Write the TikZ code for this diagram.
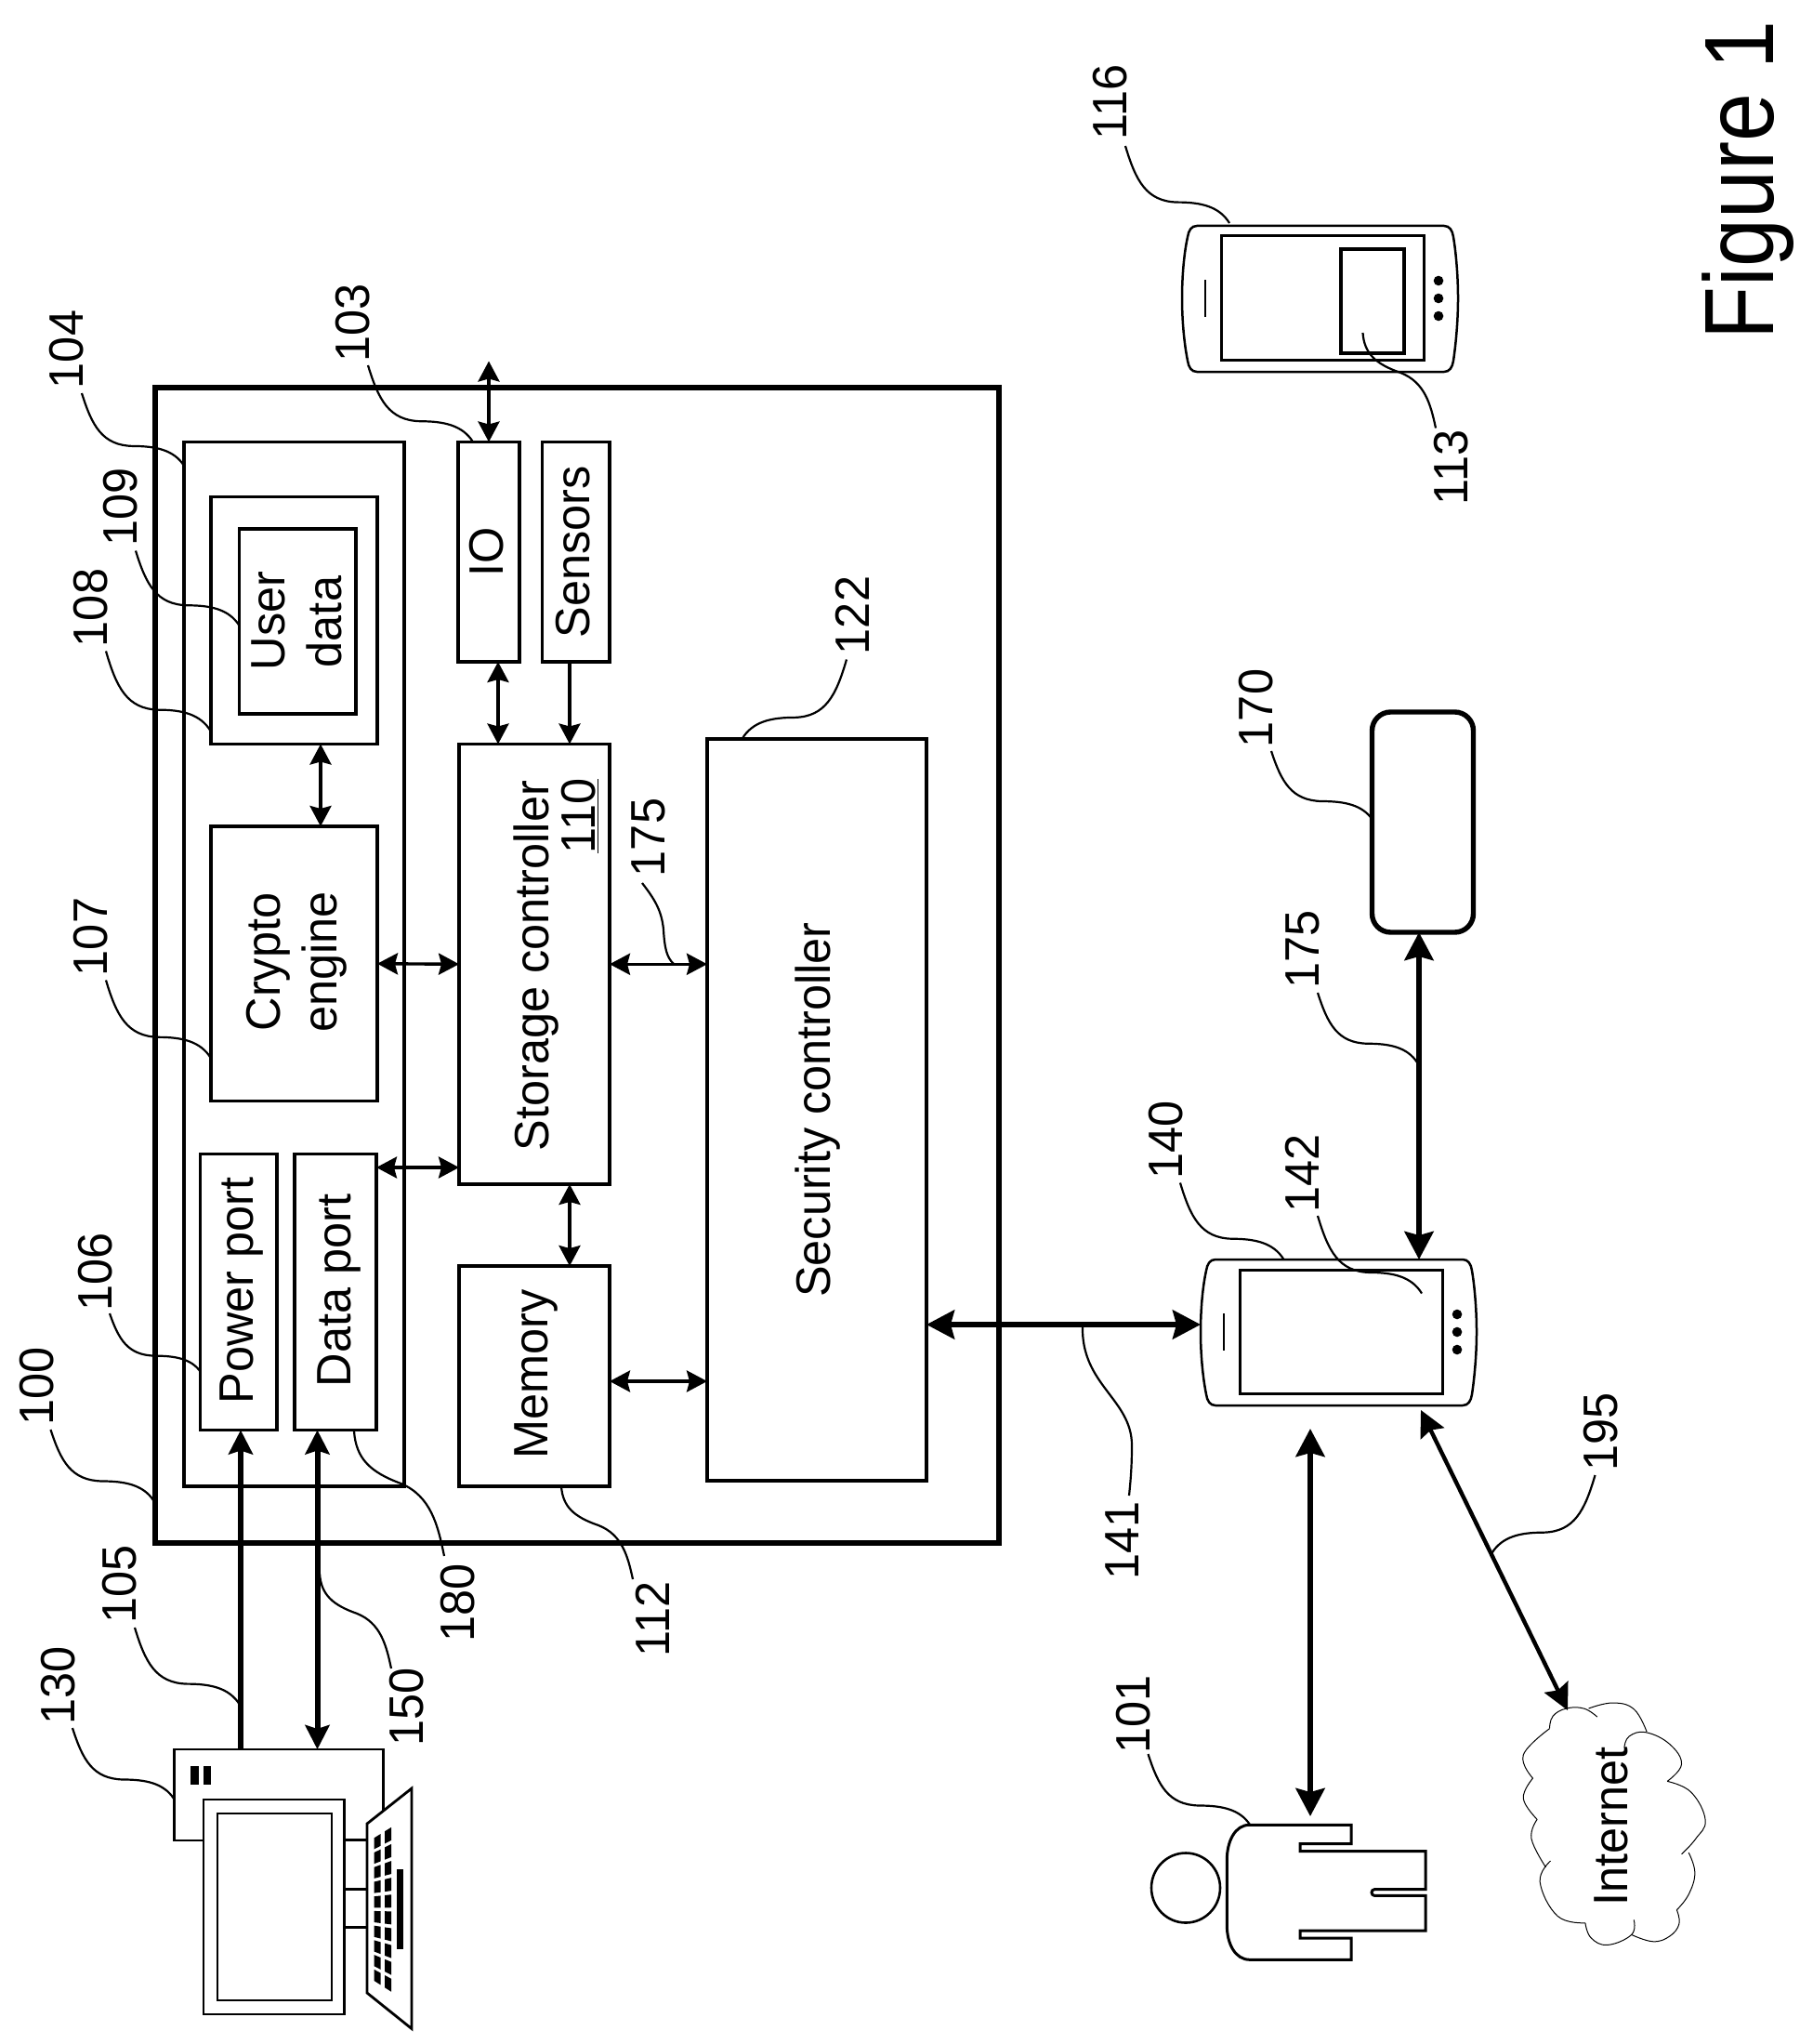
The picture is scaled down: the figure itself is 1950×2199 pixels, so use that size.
\documentclass[tikz,border=0pt]{standalone}
\usepackage{fontspec}
\setmainfont{Liberation Sans}
\usetikzlibrary{arrows.meta,calc}
\tikzset{
  boxn/.style={draw=black,line width=1.9pt,inner sep=0pt,outer sep=0pt,fill=none},
  hit/.style={inner sep=0pt,outer sep=0pt},
  lab/.style={rotate=90,xscale=0.97,anchor=base,inner sep=0pt,outer sep=0pt,font=\fontsize{26}{30}\selectfont},
  figlab/.style={rotate=90,xscale=0.88,anchor=base,inner sep=0pt,outer sep=0pt,font=\fontsize{53}{58}\selectfont},
  thin arrow/.style={line width=1.7pt},
  tipS/.style={{Stealth[length=11pt,width=11.5pt,inset=1.5pt]}-{Stealth[length=11pt,width=11.5pt,inset=1.5pt]}},
  tipSr/.style={-{Stealth[length=11pt,width=11.5pt,inset=1.5pt]}},
  thick arrow/.style={line width=3pt},
  tipL/.style={{Stealth[length=15pt,width=15.5pt,inset=2pt]}-{Stealth[length=15pt,width=15.5pt,inset=2pt]}},
  leaderline/.style={line width=1.1pt},
  phone line/.style={line width=1.25pt},
  pc line/.style={line width=1.4pt},
  phone/.pic={
    \draw[phone line] (16,0) -- (282,0) .. controls (288,0) and (291,5) .. (292,12)
      .. controls (295,30) and (297,55) .. (297,78) .. controls (297,100) and (295,125) .. (292,145)
      .. controls (291,152) and (288,157) .. (282,157) -- (16,157)
      .. controls (10,157) and (7,152) .. (6,145) .. controls (2,125) and (0,100) .. (0,78)
      .. controls (0,55) and (2,30) .. (6,12) .. controls (7,5) and (10,0) .. (16,0) -- cycle;
    \draw[line width=1.5pt] (42,11) rectangle (260,144);
    \draw[line width=1.2pt] (25,58) -- (25,98);
    \fill (276,59) circle [radius=5.3];
    \fill (276,78) circle [radius=5.3];
    \fill (276,97) circle [radius=5.3];
  }
}
\newcommand{\bx}[6][]{%
  \pgfmathsetmacro{\bw}{(#5-#3)*0.5}\pgfmathsetmacro{\bh}{(#6-#4)*0.5}%
  \pgfmathsetmacro{\cxx}{(#3+#5)/2}\pgfmathsetmacro{\cyy}{(#4+#6)/2}%
  \node[boxn,minimum width=\bw pt,minimum height=\bh pt,#1] (#2) at (\cxx,\cyy) {};}
\newcommand{\lab}[4]{\node[lab] (#1) at (#2,#3) {#4};}
\newcommand{\leaderA}[5]{%
  \coordinate (#1-a) at (#2,#3); \coordinate (#1-b) at (#4,#5);
  \pgfmathsetmacro{\dxx}{#4-#2}\pgfmathsetmacro{\dyy}{#5-#3}%
  \draw[leaderline] (#1-a) .. controls ({#2+.1*\dxx},{#3+.45*\dyy}) and ({#2+.2*\dxx},{#3+.72*\dyy})
    .. ({#2+.5*\dxx},{#3+.73*\dyy}) .. controls ({#2+.72*\dxx},{#3+.73*\dyy}) and ({#2+.9*\dxx},{#3+.78*\dyy}) .. (#1-b);}
\newcommand{\leaderB}[5]{%
  \coordinate (#1-a) at (#2,#3); \coordinate (#1-b) at (#4,#5);
  \pgfmathsetmacro{\dxx}{#4-#2}\pgfmathsetmacro{\dyy}{#5-#3}%
  \draw[leaderline] (#1-a) .. controls ({#2+.02*\dxx},{#3+.22*\dyy}) and ({#2+.18*\dxx},{#3+.33*\dyy})
    .. ({#2+.52*\dxx},{#3+.42*\dyy}) .. controls ({#2+.85*\dxx},{#3+.52*\dyy}) and ({#2+.93*\dxx},{#3+.75*\dyy}) .. (#1-b);}
\begin{document}
\begin{tikzpicture}[x=0.5pt,y=-0.5pt]
\useasboundingbox[fill=white] (0,0) rectangle (1950,2199);
% main boxes
\bx[line width=2.8pt]{dev}{167}{417}{1075}{1660}
\bx{b104}{198}{475.5}{435}{1599}
\bx{b108}{227}{534.5}{406}{800.5}
\bx{b109}{257.5}{569}{383}{768}
\bx{b107}{227}{889}{406}{1184.5}
\bx{b106}{215.5}{1241.5}{298}{1538.5}
\bx{b180}{317}{1241.5}{405}{1538.5}
\bx{b103}{493}{475.5}{559}{712}
\bx{sens}{583.5}{475.5}{656}{712}
\bx{b110}{494}{800.5}{656}{1274}
\bx{b112}{494}{1362}{656}{1599}
\bx{b122}{761}{795}{997}{1593}
% box texts
\lab{tUser}{306}{668}{User}
\lab{tData}{367}{669}{data}
\lab{tCrypto}{301}{1035}{Crypto}
\lab{tEngine}{362}{1035}{engine}
\lab{tPower}{272}{1388.5}{Power port}
\lab{tDataP}{377}{1388.5}{Data port}
\lab{tIO}{541}{593.5}{IO}
\lab{tSens}{634}{593.5}{Sensors}
\lab{tStor}{590}{1039}{Storage controller}
\lab{tStorN}{640.5}{878}{\underline{110}}
\lab{tMem}{589}{1478.5}{Memory}
\lab{tSec}{893}{1194}{Security controller}
% PC
\node[hit,minimum width=112.5pt,minimum height=49pt] (pcbase) at (300,1931) {};
\draw[pc line] (pcbase.north west) rectangle (pcbase.south east);
\begin{scope}[shift={(0,-5)}]
\fill (204.5,1905) rectangle (213.5,1925);
\fill (219,1905) rectangle (227,1925);
\draw[pc line,fill=white] (219,1941) rectangle (370.5,2172);
\draw[pc line] (234,1956) rectangle (357,2157);
\draw[pc line] (370.5,1984) -- (395,1984);
\draw[pc line] (370.5,2037.5) -- (395,2037.5);
\draw[pc line] (370.5,2078.5) -- (395,2078.5);
\draw[pc line,fill=white] (395,1967) -- (443,1929) -- (443,2187.5) -- (395,2149) -- cycle;
\foreach \kx in {402.5,414} \foreach \ki in {0,...,9} {
  \pgfmathsetmacro{\uA}{-0.78+\ki*0.162}
  \pgfmathsetmacro{\uB}{\uA+0.125}
  \pgfmathsetmacro{\hA}{91+(\kx-395)*0.797}
  \pgfmathsetmacro{\hB}{91+(\kx+7-395)*0.797}
  \fill (\kx,{2058+\uA*\hA}) -- ({\kx+7},{2058+\uA*\hB}) -- ({\kx+7},{2058+\uB*\hB}) -- (\kx,{2058+\uB*\hA}) -- cycle;
}
\fill (426.5,2016) rectangle (433.5,2102);
\end{scope}
% phones
\pic at (1292,1355) {phone};
\node[hit,anchor=north west,minimum width=148.5pt,minimum height=78.5pt] (p140) at (1292,1355) {};
\pic at (1272,243) {phone};
\node[hit,anchor=north west,minimum width=148.5pt,minimum height=78.5pt] (p116) at (1272,243) {};
\draw[line width=1.9pt] (1443,268) rectangle (1511,380);
% box 170
\node[draw=black,line width=2.7pt,rounded corners=10pt,inner sep=0pt,outer sep=0pt,minimum width=54.5pt,minimum height=118.5pt] (b170) at (1531,884.5) {};
% person
\draw[line width=1.3pt] (1276,2031) ellipse [x radius=37,y radius=37.5];
\begin{scope}[shift={(-3,-4)}]
\draw[line width=1.5pt] (1347.4,1967.3) -- (1457,1967.3) -- (1457,1987.7) -- (1402,1987.7) -- (1402,1995.7) -- (1537,1995.7) -- (1537,2036.7) -- (1482,2036.7) arc[start angle=90,end angle=270,x radius=3,y radius=-3.3] -- (1537,2043.3) -- (1537,2081) -- (1402,2081) -- (1402,2089) -- (1457,2089) -- (1457,2112.3) -- (1348,2112.3) .. controls (1332,2112.3) and (1323.3,2095) .. (1323.3,2075) -- (1323.3,2005) .. controls (1323.3,1985) and (1332,1967.3) .. (1347.4,1967.3) -- cycle;
\end{scope}
% internet cloud
\begin{scope}[shift={(1148,1748)},x=0.2564pt,y=-0.1667pt,line width=0.5pt,tension=0.7]
\draw plot[smooth] coordinates {(1013,335) (1020,295) (1048,270) (1085,270) (1113,297)};
\draw plot[smooth] coordinates {(1095,270) (1145,252) (1190,272) (1217,345)};
\draw plot[smooth] coordinates {(1170,395) (1180,360) (1215,347) (1265,385) (1290,450) (1260,505)};
\draw plot[smooth] coordinates {(1260,505) (1310,540) (1340,630) (1320,690) (1290,740)};
\draw plot[smooth] coordinates {(1305,735) (1318,800) (1305,870) (1280,920)};
\draw plot[smooth] coordinates {(1280,920) (1285,965) (1265,1005) (1230,1022) (1185,1000)};
\draw plot[smooth] coordinates {(1190,952) (1185,1000) (1135,1033) (1100,1010) (1088,962)};
\draw plot[smooth] coordinates {(1088,962) (1030,940) (993,830) (1015,762)};
\draw plot[smooth] coordinates {(1005,782) (975,690) (987,628)};
\draw plot[smooth] coordinates {(987,628) (958,560) (978,495)};
\draw plot[smooth] coordinates {(978,495) (958,420) (1013,335)};
\end{scope}
\lab{tNet}{1751}{1965}{Internet}
% connectors
\coordinate (ioTop) at (526,388.5);
\coordinate (colIO) at (526,0);
\coordinate (colSt) at (536,0);
\coordinate (colSe) at (613,0);
\coordinate (colCr) at (345,0);
\coordinate (col105) at (259,0);
\coordinate (col150) at (341.5,0);
\coordinate (rowDP) at (0,1256);
\coordinate (rowMem) at (0,1486);
\coordinate (rowSec) at (0,1425);
\draw[thin arrow,tipS] (ioTop) -- (b103.north -| ioTop);
\draw[thin arrow,tipS] (b103.south -| colSt) -- (b110.north -| colSt);
\draw[thin arrow,tipSr] (sens.south -| colSe) -- (b110.north -| colSe);
\draw[thin arrow,tipS] (b108.south -| colCr) -- (b107.north -| colCr);
\draw[thin arrow,tipS] (b107.east) -- (b110.west);
\draw[thin arrow,tipS] (b180.east |- rowDP) -- (b110.west |- rowDP);
\draw[thin arrow,tipS] (b110.south -| colSe) -- (b112.north -| colSe);
\draw[thin arrow,tipS] (b110.east) -- (b110.east -| b122.west);
\draw[thin arrow,tipS] (b112.east |- rowMem) -- (b122.west |- rowMem);
\draw[thick arrow,tipL] (b122.east |- rowSec) -- (p140.west |- rowSec);
\draw[thick arrow,{Stealth[length=13pt,width=13pt,inset=2pt]}-] (b106.south -| col105) -- (pcbase.north -| col105);
\draw[thick arrow,{Stealth[length=13pt,width=13pt,inset=2pt]}-{Stealth[length=13pt,width=13pt,inset=2pt]}] (b180.south -| col150) -- (pcbase.north -| col150);
\coordinate (phoneUser) at (1410,1537);
\coordinate (userTop) at (1410,1954);
\draw[thick arrow,tipL] (phoneUser) -- (userTop);
\coordinate (col175) at (1527,0);
\draw[thick arrow,tipL] (p140.north -| col175) -- (b170.south -| col175);
\coordinate (phoneNet) at (1529,1517);
\coordinate (netTop) at (1687,1840);
\draw[line width=2.2pt,{Stealth[length=14pt,width=14pt,inset=2pt]}-{Stealth[length=14pt,width=14pt,inset=2pt]}] (phoneNet) -- (netTop);
% labels
\lab{l104}{89}{376}{104}
\lab{l103}{397}{347.5}{103}
\lab{l109}{147}{545.5}{109}
\lab{l108}{115}{654}{108}
\lab{l107}{115}{1008}{107}
\lab{l106}{120.5}{1368}{106}
\lab{l100}{57}{1491}{100}
\lab{l105}{146}{1704}{105}
\lab{l130}{80}{1813}{130}
\lab{l150}{455}{1836}{150}
\lab{l180}{510}{1724}{180}
\lab{l112}{720}{1742}{112}
\lab{l122}{935}{662}{122}
\lab{l175a}{715}{901}{175}
\lab{l141}{1225}{1657}{141}
\lab{l140}{1272}{1226}{140}
\lab{l142}{1419}{1262}{142}
\lab{l170}{1369}{762}{170}
\lab{l175b}{1419}{1021}{175}
\lab{l116}{1212}{110}{116}
\lab{l113}{1579}{503}{113}
\lab{l101}{1237}{1844}{101}
\lab{l195}{1740}{1540}{195}
\node[figlab] (fig) at (1908,194) {Figure 1};
% leaders
\leaderA{L104}{88}{423}{198}{501}
\leaderA{L103}{396}{393}{509}{475.5}
\leaderA{L109}{146}{592.5}{257.5}{673}
\leaderA{L108}{114}{700.5}{227}{787}
\leaderA{L107}{114}{1054.5}{227}{1138.5}
\leaderA{L106}{118}{1413}{215.5}{1475.5}
\leaderA{L100}{54.5}{1538}{165}{1614}
\leaderB{L180}{381}{1539.5}{478}{1674}
\leaderB{L112}{604}{1599}{681}{1699}
\leaderB{L150}{344}{1693}{421}{1795}
\leaderA{L105}{145}{1751}{258}{1834}
\leaderA{L130}{78}{1859}{187}{1935}
\leaderA{L122}{911}{709.5}{798.5}{795}
\leaderA{L140}{1270}{1272.5}{1381.5}{1355}
\leaderA{L142}{1418}{1308}{1530}{1391.5}
\leaderA{L116}{1211}{157}{1323}{240}
\leaderB{L113}{1466.5}{358}{1545}{460.5}
\leaderA{L170}{1368}{808}{1477}{882}
\leaderA{L175b}{1418}{1068}{1525}{1143}
\leaderA{L101}{1235.5}{1887}{1345}{1963}
\leaderA{L195}{1716.5}{1587}{1605}{1671.5}
\coordinate (L175a-a) at (691,950); \coordinate (L175a-b) at (725,1037);
\draw[leaderline] (L175a-a) .. controls (705,968) and (712,980) .. (714,1000) .. controls (715,1018) and (717,1030) .. (725,1037);
\coordinate (L141-a) at (1165,1426); \coordinate (L141-b) at (1215,1609);
\draw[leaderline] (L141-a) .. controls (1163,1490) and (1218,1505) .. (1218,1555) .. controls (1218,1575) and (1217,1590) .. (L141-b);
\end{tikzpicture}
\end{document}
